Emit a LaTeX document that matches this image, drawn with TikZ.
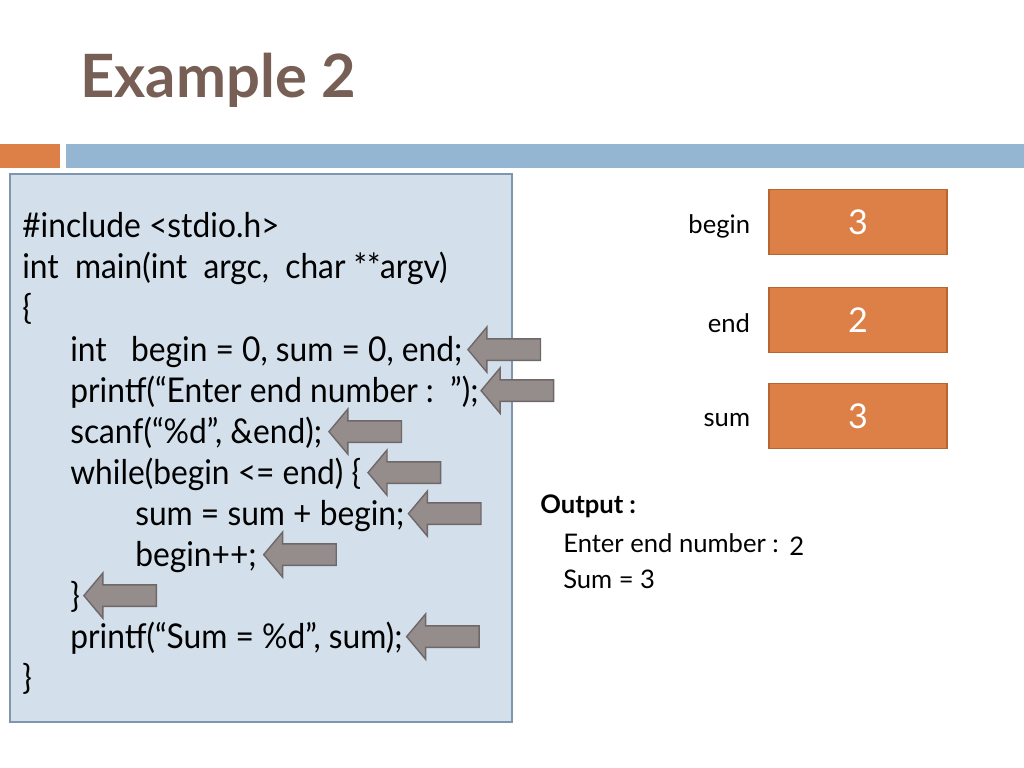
\documentclass[tikz,border=0pt]{standalone}
\usepackage{fontspec}
\setmainfont{Lato}
\newfontfamily\codefont{Lato}[FakeStretch=0.93]
\usetikzlibrary{positioning,shapes.arrows}
\definecolor{titlebrown}{HTML}{775F55}
\definecolor{barorange}{HTML}{DD8047}
\definecolor{barblue}{HTML}{94B6D2}
\definecolor{codefill}{HTML}{D3E0EB}
\definecolor{codeedge}{HTML}{7F97AE}
\definecolor{arrowgray}{HTML}{958C8C}
\definecolor{arrowedge}{HTML}{6F6868}
\definecolor{boxedge}{HTML}{B8662F}

\begin{document}
\begin{tikzpicture}[x=0.703125pt, y=-0.703125pt,
        codeline/.style={anchor=base west, inner sep=0pt, font=\codefont\fontsize{24}{28}\selectfont},
        pointer/.style={single arrow, shape border rotate=180, fill=arrowgray, draw=arrowedge, line width=1pt,
                inner xsep=0pt, inner ysep=7pt, minimum height=51pt, single arrow head extend=8.4pt,
                single arrow tip angle=100},
        varbox/.style={fill=barorange, draw=boxedge, line width=1pt, minimum width=125pt, minimum height=45.7pt,
                text=white, font=\fontsize{24}{28}\selectfont},
        varlabel/.style={font=\fontsize{18}{21}\selectfont, inner sep=0pt},
        outtext/.style={anchor=base west, inner sep=0pt, font=\fontsize{18}{21}\selectfont}]

        \useasboundingbox (0,0) rectangle (1024,768);
        \fill[white] (0,0) rectangle (1024,768);

        \node[anchor=base west, inner sep=0pt, text=titlebrown, font=\fontsize{42}{50}\selectfont\bfseries] (title) at (80,98) {Example 2};

        \fill[barorange] (0,144) rectangle (60,168);
        \fill[barblue] (66,144) rectangle (1024,168);

        \draw[fill=codefill, draw=codeedge, line width=1pt] (10,174) rectangle (512,722);

        \node[codeline] (l1) at (22,238) {\#include <stdio.h>};
        \node[codeline] (l2) at (22,279) {int\ \ main(int\ \ argc,\ \ char **argv)};
        \node[codeline] (l3) at (22,320) {\{};
        \node[codeline] (l4) at (70,361) {int\ \ \ begin = 0, sum = 0, end;};
        \node[codeline] (l5) at (70,402) {printf(“Enter end number :\ \ ”);};
        \node[codeline] (l6) at (70,443) {scanf(“\%d”, \&end);};
        \node[codeline] (l7) at (70,484) {while(begin <= end) \{};
        \node[codeline] (l8) at (135,525) {sum = sum + begin;};
        \node[codeline] (l9) at (135,566) {begin++;};
        \node[codeline] (l10) at (70,607) {\}};
        \node[codeline] (l11) at (70,648) {printf(“Sum = \%d”, sum);};
        \node[codeline] (l12) at (22,689) {\}};

        \node[pointer, anchor=tip] (p4) at ([xshift=3pt,yshift=8pt]l4.base east) {};
        \node[pointer, anchor=tip] (p5) at ([xshift=1pt,yshift=8pt]l5.base east) {};
        \node[pointer, anchor=tip] (p6) at ([xshift=4pt,yshift=8pt]l6.base east) {};
        \node[pointer, anchor=tip] (p7) at ([xshift=4pt,yshift=8pt]l7.base east) {};
        \node[pointer, anchor=tip] (p8) at ([xshift=2pt,yshift=8pt]l8.base east) {};
        \node[pointer, anchor=tip] (p9) at ([xshift=4pt,yshift=8pt]l9.base east) {};
        \node[pointer, anchor=tip] (p10) at ([xshift=2pt,yshift=8pt]l10.base east) {};
        \node[pointer, anchor=tip] (p11) at ([xshift=2pt,yshift=8pt]l11.base east) {};

        \node[varbox] (vbegin) at (858,222) {3};
        \node[varbox] (vend) at (858,320) {2};
        \node[varbox] (vsum) at (858,416) {3};
        \node[varlabel, left=12.7pt of vbegin, yshift=-3pt] (nbegin) {begin};
        \node[varlabel, left=12.7pt of vend, yshift=-2pt] (nend) {end};
        \node[varlabel, left=12.7pt of vsum, yshift=-3pt] (nsum) {sum};

        \node[outtext, font=\fontsize{18}{21}\selectfont\bfseries] (ohead) at (540,513) {Output :};
        \node[outtext] (oline1) at (563,552) {Enter end number :};
        \node[outtext] (oval) at (789,555) {2};
        \node[outtext] (oline2) at (563,588) {Sum = 3};

\end{tikzpicture}
\end{document}
